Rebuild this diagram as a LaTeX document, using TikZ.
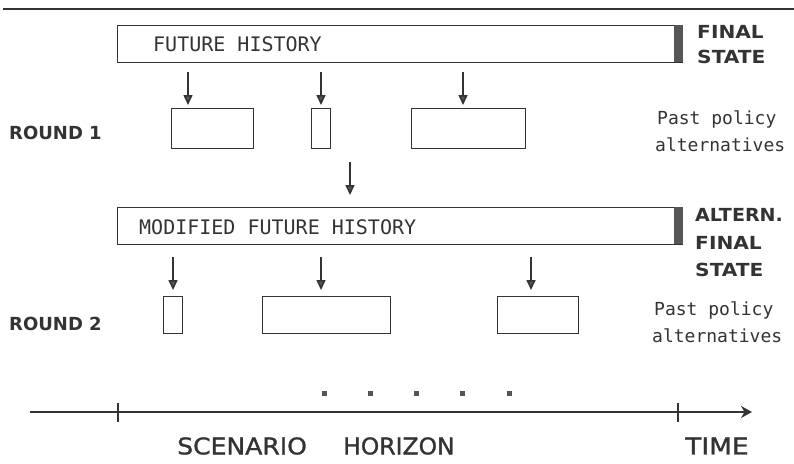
\documentclass[tikz,border=0pt]{standalone}
\usepackage{fontspec}
\setmainfont{DejaVu Sans}
\newfontfamily\monof{DejaVu Sans Mono}
\newfontfamily\medf[FakeBold=1.2]{DejaVu Sans}
\usetikzlibrary{arrows.meta}
\definecolor{ink}{HTML}{333333}
\definecolor{darkfill}{HTML}{555555}
\tikzset{
  bar/.style={draw=ink, line width=1.3pt, minimum width=565pt, minimum height=37pt, inner sep=0pt, anchor=north west},
  pbox/.style={draw=ink, line width=1.3pt, inner sep=0pt, anchor=north west},
  endcap/.style={fill=darkfill, draw=none, minimum width=9pt, minimum height=37pt, inner sep=0pt, anchor=north east},
  arr/.style={draw=ink, line width=1.6pt, -{Triangle[width=9pt,length=10pt,fill=darkfill]}},
  thin/.style={font=\monof\fontsize{20}{20}\selectfont, text=ink, inner sep=0pt, anchor=west},
  bold/.style={font=\bfseries\fontsize{18}{18}\selectfont, text=ink, inner sep=0pt, anchor=west},
  side/.style={font=\monof\fontsize{18}{18}\selectfont, text=ink, inner sep=0pt, anchor=west},
  axislab/.style={font=\medf\fontsize{23}{23}\selectfont, text=ink, inner sep=0pt, anchor=west},
  dot/.style={fill=darkfill, minimum size=5pt, inner sep=0pt},
}
\begin{document}
\begin{tikzpicture}[x=1pt,y=-1pt]
\useasboundingbox (0,0) rectangle (794,463);
% top rule
\coordinate (tl) at (3,9);
\coordinate (tr) at (794,9);
\draw[ink, line width=2.5pt] (tl) -- (tr);

% future history bar
\node[bar] (fh) at (117,25) {};
\node[endcap] (fhe) at (fh.north east) {};
\node[thin] (fht) at (153,44) {FUTURE HISTORY};
\node[bold, xscale=1.12] (fs1) at (697,32) {FINAL};
\node[bold, xscale=1.12] (fs2) at (697,57) {STATE};

% round 1
\coordinate (a1s) at (188,72); \coordinate (a1e) at (188,105);
\coordinate (a2s) at (321,72); \coordinate (a2e) at (321,105);
\coordinate (a3s) at (463,72); \coordinate (a3e) at (463,105);
\draw[arr] (a1s) -- (a1e);
\draw[arr] (a2s) -- (a2e);
\draw[arr] (a3s) -- (a3e);
\node[pbox, minimum width=82pt, minimum height=40pt] (b11) at (171,108) {};
\node[pbox, minimum width=19pt, minimum height=40pt] (b12) at (311,108) {};
\node[pbox, minimum width=114pt, minimum height=40pt] (b13) at (411,108) {};
\node[bold] (r1) at (9,133) {ROUND 1};
\node[side] (p1a) at (657,119) {Past policy};
\node[side] (p1b) at (655,145) {alternatives};

% middle arrow
\coordinate (ms) at (350,162); \coordinate (me) at (350,195);
\draw[arr] (ms) -- (me);

% modified future history bar
\node[bar] (mh) at (117,207) {};
\node[endcap] (mhe) at (mh.north east) {};
\node[thin] (mht) at (139,227) {MODIFIED FUTURE HISTORY};
\node[bold, xscale=1.06] (as1) at (695,215) {ALTERN.};
\node[bold, xscale=1.12] (as2) at (695,243) {FINAL};
\node[bold, xscale=1.12] (as3) at (695,270) {STATE};

% round 2
\coordinate (c1s) at (173,257); \coordinate (c1e) at (173,290);
\coordinate (c2s) at (321,257); \coordinate (c2e) at (321,290);
\coordinate (c3s) at (531,257); \coordinate (c3e) at (531,290);
\draw[arr] (c1s) -- (c1e);
\draw[arr] (c2s) -- (c2e);
\draw[arr] (c3s) -- (c3e);
\node[pbox, minimum width=19pt, minimum height=37pt] (b21) at (163,296) {};
\node[pbox, minimum width=128pt, minimum height=37pt] (b22) at (262,296) {};
\node[pbox, minimum width=81pt, minimum height=37pt] (b23) at (497,296) {};
\node[bold] (r2) at (9,324) {ROUND 2};
\node[side] (p2a) at (654,310) {Past policy};
\node[side] (p2b) at (652,336) {alternatives};

% dots
\node[dot] (d1) at (324,393) {};
\node[dot] (d2) at (370,393) {};
\node[dot] (d3) at (416,393) {};
\node[dot] (d4) at (462,393) {};
\node[dot] (d5) at (509,393) {};

% time axis
\coordinate (ts) at (30,412);
\coordinate (te) at (752,412);
\draw[ink, line width=2.5pt, -{Stealth[width=12pt,length=11pt]}] (ts) -- (te);
\coordinate (k1a) at (118,403); \coordinate (k1b) at (118,422);
\coordinate (k2a) at (678,403); \coordinate (k2b) at (678,422);
\draw[ink, line width=1.5pt] (k1a) -- (k1b);
\draw[ink, line width=1.5pt] (k2a) -- (k2b);
\node[axislab, xscale=1.09] (sc) at (177,446) {SCENARIO};
\node[axislab, xscale=1.02] (hz) at (343,446) {HORIZON};
\node[axislab, xscale=1.15] (tm) at (685,446) {TIME};
\end{tikzpicture}
\end{document}
